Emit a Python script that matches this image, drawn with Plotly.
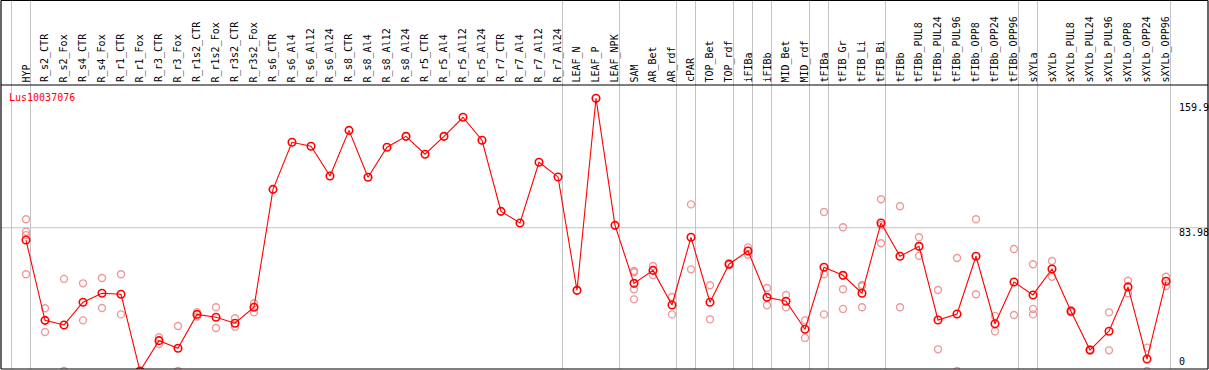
import plotly.graph_objects as go

samples = ["HYP", "R_s2_CTR", "R_s2_Fox", "R_s4_CTR", "R_s4_Fox", "R_r1_CTR", "R_r1_Fox",
           "R_r3_CTR", "R_r3_Fox", "R_r1s2_CTR", "R_r1s2_Fox", "R_r3s2_CTR", "R_r3s2_Fox",
           "R_s6_CTR", "R_s6_Al4", "R_s6_Al12", "R_s6_Al24", "R_s8_CTR", "R_s8_Al4", "R_s8_Al12",
           "R_s8_Al24", "R_r5_CTR", "R_r5_Al4", "R_r5_Al12", "R_r5_Al24", "R_r7_CTR", "R_r7_Al4",
           "R_r7_Al12", "R_r7_Al24", "LEAF_N", "LEAF_P", "LEAF_NPK", "SAM", "AR_Bet", "AR_rdf",
           "cPAR", "TOP_Bet", "TOP_rdf", "iFIBa", "iFIBb", "MID_Bet", "MID_rdf", "tFIBa",
           "tFIB_Gr", "tFIB_Li", "tFIB_Bi", "tFIBb", "tFIBb_PUL8", "tFIBb_PUL24", "tFIBb_PUL96",
           "tFIBb_OPP8", "tFIBb_OPP24", "tFIBb_OPP96", "sXYLa", "sXYLb", "sXYLb_PUL8",
           "sXYLb_PUL24", "sXYLb_PUL96", "sXYLb_OPP8", "sXYLb_OPP24", "sXYLb_OPP96"]

mean_values = [76.8, 29.7, 27.0, 40.3, 45.6, 45.0, 0.0, 17.8, 13.3, 33.2, 31.5, 28.0, 37.4,
               106.5, 134.1, 131.8, 114.3, 141.1, 113.6, 131.2, 137.6, 127.1, 137.6, 148.8, 135.3,
               93.6, 86.8, 122.4, 113.8, 47.3, 159.9, 85.4, 51.4, 59.0, 38.7, 78.4, 40.3, 62.6,
               70.4, 43.2, 40.9, 24.5, 60.8, 56.1, 45.6, 86.8, 67.3, 73.1, 29.9, 33.4, 67.3, 27.7,
               52.2, 44.6, 59.8, 35.0, 12.3, 23.3, 49.3, 7.0, 52.6]

# replicate measurements: (sample index, value)
rep_index = [0, 0, 0, 0, 1, 1, 2, 2, 3, 3, 4, 4, 5, 5, 6, 6, 7, 7, 8, 8, 9, 9, 10, 10, 11, 11,
             12, 12, 32, 32, 32, 32, 33, 33, 34, 34, 35, 35, 36, 36, 37, 37, 38, 38, 39, 39,
             40, 40, 41, 41, 42, 42, 42, 43, 43, 43, 44, 44, 44, 45, 45, 45, 46, 46, 47, 47,
             48, 48, 49, 49, 50, 50, 51, 51, 52, 52, 53, 53, 53, 54, 54, 55, 55, 56, 56, 57, 57,
             58, 58, 59, 59, 60, 60]
rep_values = [89.0, 81.7, 79.7, 56.7, 36.8, 22.9, 54.0, 0.0, 51.4, 29.7, 54.5, 36.9, 56.7, 33.2,
              0.0, 0.0, 19.8, 15.8, 26.4, 0.0, 34.5, 31.9, 37.4, 25.2, 30.9, 26.0, 39.7, 34.4,
              58.6, 57.9, 47.9, 42.0, 61.6, 56.3, 43.4, 33.2, 97.7, 59.6, 50.3, 30.3, 63.2, 62.2,
              72.5, 68.2, 48.7, 38.5, 44.6, 37.4, 29.7, 19.4, 93.2, 56.7, 33.2, 84.3, 47.9, 36.4,
              50.4, 49.7, 37.4, 100.7, 85.6, 74.9, 96.6, 37.4, 78.4, 67.6, 47.5, 12.7, 66.3, 0.0,
              89.0, 45.0, 32.3, 23.3, 71.5, 32.8, 62.6, 36.4, 33.2, 64.5, 55.3, 35.6, 34.4, 12.0,
              12.6, 34.4, 12.1, 52.9, 45.6, 13.7, 0.0, 55.3, 49.8]

# first sample index of each group (vertical separators)
group_starts = [0, 1, 29, 32, 35, 36, 38, 39, 40, 42, 43, 46, 53, 54, 61]

gene_label = "Lus10037076"
ref_value = 83.98
axis_labels = ["159.9", "83.98", "0"]

W, H = 1209, 370
ML, MR, MT, MB = 1, 1, 85, 1
PH = H - MT - MB
x_px0, x_step = 26.0, 19.0
y_zero_px, y_scale = 371.0, 1.7054

x_range = [(ML - x_px0) / x_step, (W - MR - x_px0) / x_step]
y_range = [(y_zero_px - (H - MB)) / y_scale, (y_zero_px - MT) / y_scale]

def py(p):  # pixel y -> paper
    return (H - MB - p) / PH

mono = "DejaVu Sans Mono"
grid_col = "#c4c4c4"

fig = go.Figure()
fig.add_trace(go.Scatter(
    x=rep_index, y=rep_values, mode="markers",
    marker=dict(symbol="circle-open", size=7, color="#ee9999", line=dict(width=1.4, color="#ee9999")),
    hoverinfo="skip", showlegend=False))
fig.add_trace(go.Scatter(
    x=list(range(len(samples))), y=mean_values, mode="lines+markers",
    line=dict(color="#ff0000", width=1.1),
    marker=dict(symbol="circle-open", size=7.5, color="#ff0000", line=dict(width=1.6, color="#ff0000")),
    showlegend=False))

shapes = []
for g in group_starts:
    xg = g - 14.5 / x_step
    shapes.append(dict(type="line", xref="x", yref="paper", x0=xg, x1=xg, y0=0, y1=py(0),
                       line=dict(color=grid_col, width=1), layer="below"))
shapes.append(dict(type="line", xref="paper", yref="y", x0=0, x1=1, y0=ref_value, y1=ref_value,
                   line=dict(color=grid_col, width=1), layer="below"))
# frame
for (x0, y0, x1, y1) in [(0, 0, 1, 0), (0, 1, 1, 1), (0, py(0.5), 1, py(0.5)),
                         (0, 0, 0, py(0.5)), (1, 0, 1, py(0.5))]:
    shapes.append(dict(type="line", xref="paper", yref="paper", x0=x0, y0=y0, x1=x1, y1=y1,
                       line=dict(color="black", width=1.2), layer="above"))

annotations = []
for i, s in enumerate(samples):
    annotations.append(dict(x=i, y=py(84.5), xref="x", yref="paper", text=s, textangle=-90,
                            showarrow=False, xanchor="center", yanchor="bottom",
                            font=dict(family=mono, size=10, color="black")))
annotations.append(dict(x=(7 - ML) / (W - ML - MR), y=py(97), xref="paper", yref="paper",
                        text=gene_label, showarrow=False, xanchor="left", yanchor="middle",
                        font=dict(family=mono, size=10, color="#ff0000")))
for lab, yp in zip(axis_labels, [107, 232.5, 361.7]):
    annotations.append(dict(x=(1177 - ML) / (W - ML - MR), y=py(yp), xref="paper", yref="paper",
                            text=lab, showarrow=False, xanchor="left", yanchor="middle",
                            font=dict(family=mono, size=10, color="black")))

fig.update_layout(
    width=W, height=H, margin=dict(l=ML, r=MR, t=MT, b=MB, pad=0),
    paper_bgcolor="white", plot_bgcolor="white",
    xaxis=dict(range=x_range, showgrid=False, zeroline=False, showticklabels=False,
               showline=False, fixedrange=True),
    yaxis=dict(range=y_range, showgrid=False, zeroline=False, showticklabels=False,
               showline=False, fixedrange=True),
    shapes=shapes, annotations=annotations, showlegend=False)

fig.write_html("out.html", config={"displayModeBar": False},
               post_script="document.body.style.margin='0';document.body.style.padding='0';"
                           "document.body.style.overflow='hidden';")
